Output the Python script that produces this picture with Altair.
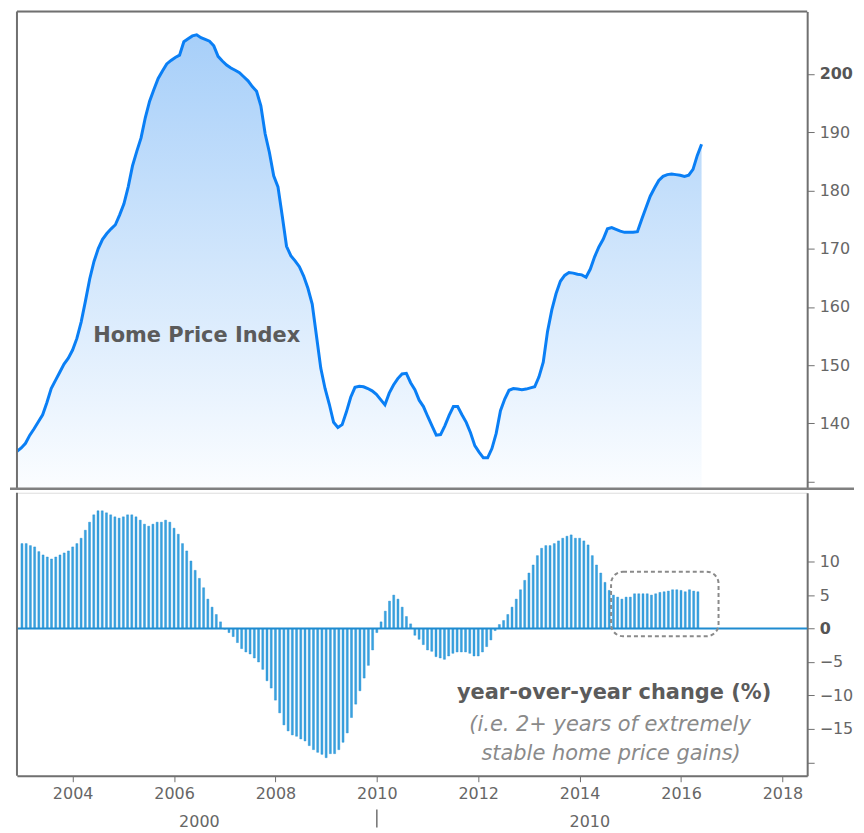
import altair as alt
import pandas as pd

# Home price index, monthly (Jan 2003 - May 2016)
hpi_2003 = [135.2, 135.8, 136.6, 138.0, 139.1, 140.3, 141.5, 143.6, 146.0, 147.4, 148.8, 150.2]
hpi_2004 = [151.2, 152.6, 154.6, 157.4, 161.0, 164.8, 167.8, 170.0, 171.6, 172.6, 173.4, 174.1]
hpi_2005 = [175.8, 177.7, 180.6, 184.2, 186.7, 189.0, 192.5, 195.3, 197.3, 199.2, 200.5, 201.7]
hpi_2006 = [202.3, 202.8, 203.2, 205.5, 206.0, 206.5, 206.7, 206.2, 205.9, 205.6, 204.8, 203.0]
hpi_2007 = [202.2, 201.5, 201.0, 200.6, 200.2, 199.5, 198.8, 197.8, 197.0, 194.5, 189.7, 186.5]
hpi_2008 = [182.5, 180.6, 175.6, 170.4, 168.8, 167.9, 166.9, 165.3, 163.2, 160.5, 155.0, 149.5]
hpi_2009 = [146.0, 143.3, 140.2, 139.3, 139.8, 142.0, 144.5, 146.2, 146.4, 146.3, 146.0, 145.6]
hpi_2010 = [145.0, 144.1, 143.2, 145.2, 146.6, 147.7, 148.5, 148.6, 147.0, 145.8, 144.0, 142.9]
hpi_2011 = [141.2, 139.6, 138.0, 138.1, 139.6, 141.4, 142.9, 142.9, 141.5, 140.2, 138.4, 136.2]
hpi_2012 = [135.1, 134.1, 134.1, 135.7, 138.3, 142.2, 144.2, 145.7, 146.0, 145.9, 145.8, 145.9]
hpi_2013 = [146.1, 146.3, 148.0, 150.5, 155.8, 159.5, 162.3, 164.4, 165.4, 165.9, 165.8, 165.6]
hpi_2014 = [165.5, 165.1, 166.5, 168.6, 170.3, 171.6, 173.4, 173.6, 173.3, 173.0, 172.8, 172.8]
hpi_2015 = [172.8, 172.9, 175.0, 177.0, 179.0, 180.4, 181.7, 182.4, 182.7, 182.8, 182.7, 182.6]
hpi_2016 = [182.4, 182.6, 183.6, 186.0, 187.9]

# Year-over-year change (%), monthly
yoy_2003 = [12.7, 12.7, 12.4, 12.2, 11.5, 11.0, 10.7, 10.4, 10.7, 11.0, 11.3, 11.6]
yoy_2004 = [12.2, 12.7, 13.5, 14.7, 15.9, 17.0, 17.6, 17.6, 17.3, 17.0, 16.7, 16.5]
yoy_2005 = [16.7, 17.0, 17.0, 16.7, 16.2, 15.6, 15.3, 15.6, 15.9, 15.9, 16.2, 15.9]
yoy_2006 = [15.0, 14.1, 12.7, 11.6, 10.1, 8.7, 7.5, 6.1, 4.4, 3.2, 2.1, 1.0]
yoy_2007 = [-0.1, -0.6, -1.2, -2.1, -3.0, -3.5, -3.8, -4.4, -5.0, -6.1, -7.8, -8.9]
yoy_2008 = [-10.7, -12.6, -14.4, -15.3, -15.9, -16.1, -16.5, -16.8, -17.5, -18.1, -18.5, -18.8]
yoy_2009 = [-19.3, -18.7, -18.7, -18.1, -17.0, -15.6, -13.3, -11.3, -9.3, -7.4, -5.5, -3.2]
yoy_2010 = [-0.6, 1.0, 2.6, 4.1, 5.0, 4.4, 3.2, 1.8, 0.7, -1.0, -1.6, -2.4]
yoy_2011 = [-3.2, -3.4, -4.2, -4.4, -4.6, -4.1, -3.7, -3.5, -3.5, -3.5, -3.7, -4.1]
yoy_2012 = [-4.1, -3.5, -2.7, -1.7, -0.3, 0.6, 1.2, 2.1, 3.2, 4.4, 5.8, 7.2]
yoy_2013 = [8.3, 9.5, 10.9, 12.0, 12.4, 12.4, 12.7, 13.1, 13.5, 13.8, 14.0, 13.5]
yoy_2014 = [13.5, 13.1, 12.5, 10.9, 9.5, 8.3, 6.9, 5.7, 5.0, 4.7, 4.4, 4.7]
yoy_2015 = [4.7, 5.2, 5.2, 5.2, 5.2, 5.0, 5.2, 5.4, 5.5, 5.6, 5.8, 5.8]
yoy_2016 = [5.7, 5.5, 5.8, 5.6, 5.5]

top_ticks = [130, 140, 150, 160, 170, 180, 190, 200]
bottom_ticks = [-20, -15, -10, -5, 0, 5, 10]
x_ticks = [2004, 2006, 2008, 2010, 2012, 2014, 2016, 2018]
decades = ["2000", "2010"]
decade_pos = [2006.5, 2014.2]

hpi = (hpi_2003 + hpi_2004 + hpi_2005 + hpi_2006 + hpi_2007 + hpi_2008 + hpi_2009
       + hpi_2010 + hpi_2011 + hpi_2012 + hpi_2013 + hpi_2014 + hpi_2015 + hpi_2016)
yoy = (yoy_2003 + yoy_2004 + yoy_2005 + yoy_2006 + yoy_2007 + yoy_2008 + yoy_2009
       + yoy_2010 + yoy_2011 + yoy_2012 + yoy_2013 + yoy_2014 + yoy_2015 + yoy_2016)

df_hpi = pd.DataFrame({"t": [2003 + i / 12 for i in range(len(hpi))], "v": hpi})
df_yoy = pd.DataFrame({"t": [2003 + i / 12 for i in range(len(yoy))], "v": yoy})
df_dec = pd.DataFrame({"t": decade_pos, "label": decades})
one = pd.DataFrame({"a": [0]})

W = 793
H1 = 479
H2 = 284
FONT = "DejaVu Sans"
AX = "#707070"
LAB = "#666666"

xs = alt.Scale(domain=[2003.0, 2018.39], nice=False, zero=False)
ys_top = alt.Scale(domain=[128.8, 210.7], nice=False, zero=False)
ys_bot = alt.Scale(domain=[-22.0, 20.3], nice=False, zero=False)

grad = alt.Gradient(
    gradient="linear",
    stops=[alt.GradientStop(color="#a7cff9", offset=0),
           alt.GradientStop(color="#fbfdff", offset=1)],
    x1=1, x2=1, y1=0, y2=1,
)

top_axis = alt.Axis(
    orient="right", values=top_ticks, grid=False, title=None,
    tickSize=7, tickColor=AX, domainColor=AX, domainWidth=2,
    labelFontSize=16, labelFont=FONT, labelPadding=5,
    labelColor={"condition": {"test": "datum.value == 200", "value": "#555555"}, "value": LAB},
    labelFontWeight={"condition": {"test": "datum.value == 200", "value": "bold"}, "value": "normal"},
    labelExpr="datum.value == 130 ? '' : datum.label",
)

area = alt.Chart(df_hpi).mark_area(color=grad).encode(
    x=alt.X("t:Q", scale=xs, axis=None),
    y=alt.Y("v:Q", scale=ys_top, axis=top_axis),
    y2=alt.datum(128.8),
)
line = alt.Chart(df_hpi).mark_line(color="#0a7ff5", strokeWidth=3).encode(
    x=alt.X("t:Q", scale=xs, axis=None),
    y=alt.Y("v:Q", scale=ys_top),
)
hpi_label = alt.Chart(one).mark_text(
    text="Home Price Index", font=FONT, fontSize=21, fontWeight="bold", color="#5b5b5b"
).encode(x=alt.datum(2006.5), y=alt.datum(155.0))
frame_top = alt.Chart(one).mark_rule(color=AX, strokeWidth=2).encode(
    x=alt.value(0), x2=alt.value(W), y=alt.value(0)
)
frame_left_top = alt.Chart(one).mark_rule(color=AX, strokeWidth=2).encode(
    x=alt.value(0), y=alt.value(0), y2=alt.value(H1)
)
divider = alt.Chart(one).mark_rule(color="#808080", strokeWidth=2.5).encode(
    x=alt.value(-7), x2=alt.value(840), y=alt.value(H1)
)

top = alt.layer(area, line, hpi_label, frame_top, frame_left_top, divider).properties(
    width=W, height=H1
)

bottom_axis_y = alt.Axis(
    orient="right", values=bottom_ticks, grid=False, title=None,
    tickSize=7, tickColor=AX, domainColor=AX, domainWidth=2,
    labelFontSize=16, labelFont=FONT, labelPadding=5,
    labelColor={"condition": {"test": "datum.value == 0", "value": "#555555"}, "value": LAB},
    labelFontWeight={"condition": {"test": "datum.value == 0", "value": "bold"}, "value": "normal"},
    labelExpr="datum.value == -20 ? '' : datum.label",
)
bottom_axis_x = alt.Axis(
    values=x_ticks, format="d", grid=False, title=None,
    tickSize=6, tickColor=AX, domainColor=AX, domainWidth=2,
    labelFontSize=16, labelFont=FONT, labelColor=LAB, labelPadding=4,
)

bars = alt.Chart(df_yoy).mark_bar(
    width=2.0, fill="#3aa2df", stroke="#1b8cd2", strokeWidth=0.4
).encode(
    x=alt.X("t:Q", scale=xs, axis=bottom_axis_x),
    y=alt.Y("v:Q", scale=ys_bot, axis=bottom_axis_y),
    y2=alt.datum(0),
)
zero_line = alt.Chart(one).mark_rule(color="#1f8bd0", strokeWidth=2).encode(y=alt.datum(0))
frame_left_bot = alt.Chart(one).mark_rule(color=AX, strokeWidth=2).encode(
    x=alt.value(0), y=alt.value(0), y2=alt.value(H2)
)
box = alt.Chart(one).mark_rect(
    fillOpacity=0, stroke="#8a8a8a", strokeWidth=2, strokeDash=[4, 3], cornerRadius=12
).encode(
    x=alt.datum(2014.62), x2=alt.datum(2016.74), y=alt.datum(8.5), y2=alt.datum(-1.15)
)
yoy_title = alt.Chart(one).mark_text(
    text="year-over-year change (%)", font=FONT, fontSize=21, fontWeight="bold", color="#5b5b5b"
).encode(x=alt.datum(2014.68), y=alt.datum(-9.6))
note1 = alt.Chart(one).mark_text(
    text="(i.e. 2+ years of extremely", font=FONT, fontSize=21, fontStyle="italic", color="#8a8a8a"
).encode(x=alt.datum(2014.6), y=alt.datum(-14.4))
note2 = alt.Chart(one).mark_text(
    text="stable home price gains)", font=FONT, fontSize=21, fontStyle="italic", color="#8a8a8a"
).encode(x=alt.datum(2014.62), y=alt.datum(-18.7))
dec_text = alt.Chart(df_dec).mark_text(
    font=FONT, fontSize=16, color=LAB
).encode(x=alt.X("t:Q", scale=xs), y=alt.value(H2 + 46), text="label:N")
dec_sep = alt.Chart(one).mark_rule(color=AX, strokeWidth=1.5).encode(
    x=alt.datum(2010), y=alt.value(H2 + 34), y2=alt.value(H2 + 52)
)

bottom = alt.layer(
    bars, zero_line, frame_left_bot, box, yoy_title, note1, note2, dec_text, dec_sep
).properties(width=W, height=H2)

chart = alt.vconcat(top, bottom, spacing=0).properties(
    padding={"left": 0, "top": 0, "right": 0, "bottom": 0}
).configure_view(
    stroke=None
).configure(font=FONT)

chart.save("out.html", embed_options={"renderer": "svg", "actions": False})
